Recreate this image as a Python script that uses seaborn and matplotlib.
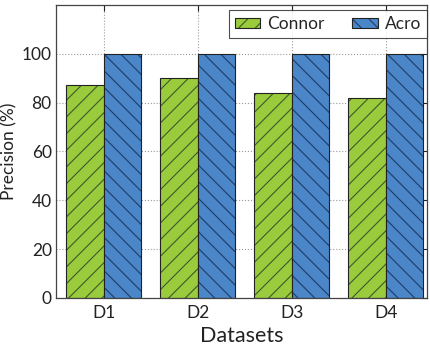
import pandas as pd
import matplotlib.pyplot as plt
import seaborn as sns
from matplotlib.colors import to_rgba

# Chart data
DATASETS = ['D1', 'D2', 'D3', 'D4']
CONNOR = [87, 90, 84, 82]
ACRO = [100, 100, 100, 100]
SERIES = ['Connor', 'Acro']
COLORS = ['#9acb3c', '#4a86c8']
HATCH_COLORS = ['#3d5a2c', '#1e3c66']
HATCHES = ['//', '\\\\']


def make_chart():
    df = pd.DataFrame({
        'Dataset': DATASETS * 2,
        'Method': ['Connor'] * len(DATASETS) + ['Acro'] * len(DATASETS),
        'Precision': CONNOR + ACRO,
    })

    sns.set_style('white')
    plt.rcParams['font.family'] = ['Lato', 'DejaVu Sans']
    plt.rcParams['hatch.linewidth'] = 0.8

    fig = plt.figure(figsize=(4.3, 3.5), dpi=100)
    ax = fig.add_axes([0.130, 0.149, 0.863, 0.837])

    sns.barplot(data=df, x='Dataset', y='Precision', hue='Method',
                hue_order=SERIES, palette=COLORS, saturation=1,
                width=0.8, edgecolor='#222222', linewidth=0.8,
                legend=False, ax=ax, zorder=2)

    # hatch each series, hatch lines in a darker shade of the fill
    for cont, hatch, hc in zip(ax.containers, HATCHES, HATCH_COLORS):
        for bar in cont:
            bar.set_hatch(hatch)
            bar._hatch_color = to_rgba(hc)

    ax.set_xlim(-0.51, 3.44)
    ax.set_ylim(0, 120)
    ax.set_yticks([0, 20, 40, 60, 80, 100])

    ax.grid(True, linestyle=':', color='#9a9a9a', linewidth=0.8, zorder=0)
    ax.set_axisbelow(True)
    for s in ax.spines.values():
        s.set_color('#444444')
        s.set_linewidth(0.9)
    ax.tick_params(direction='in', length=4, width=0.8, top=True, right=True,
                   labelsize=12.5, colors='#222222', pad=3)
    ax.tick_params(axis='x', pad=5)

    ax.set_xlabel('Datasets', fontsize=15.5, color='#222222', labelpad=4)
    ax.set_ylabel('Precision (%)', fontsize=12.5, color='#222222', labelpad=3)

    leg = ax.legend(ax.containers, SERIES, loc='upper right', ncol=2,
                    bbox_to_anchor=(1.0, 0.982),
                    fontsize=12.5, frameon=True, fancybox=False,
                    edgecolor='#222222', borderaxespad=0.0, borderpad=0.35,
                    handlelength=1.45, handleheight=0.45, handletextpad=0.4,
                    columnspacing=1.6)
    leg.get_frame().set_linewidth(0.8)

    fig.savefig('out.png', dpi=100)


if __name__ == '__main__':
    make_chart()
